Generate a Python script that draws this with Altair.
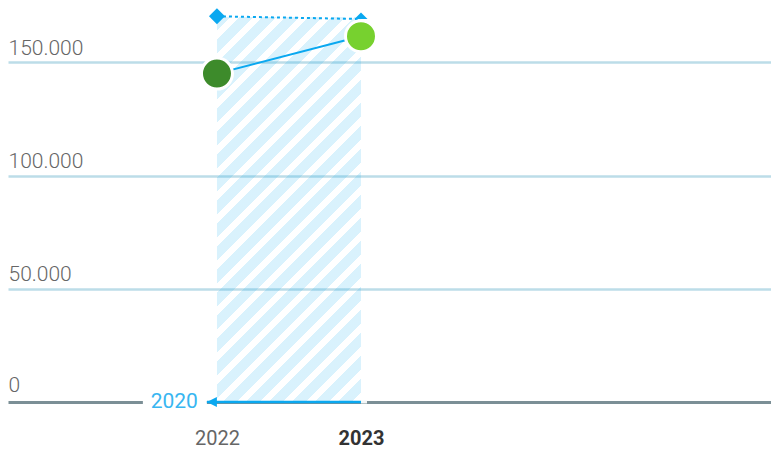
import altair as alt
import pandas as pd

# --- data -------------------------------------------------------------
years = [2022, 2023]
values = [145000, 161500]          # green points
marker_values = [170300, 169100]   # dotted top markers
band_range = [2022, 2023]
band_top = 170000
arrow_from = 2023
arrow_to = 2021.93
arrow_label = "2020"
y_ticks = [0, 50000, 100000, 150000]
x_ticks = [2022, 2023]

# --- layout / style ---------------------------------------------------
W, H = 763, 402
X_DOMAIN = [2020.549, 2025.847]
Y_DOMAIN = [0, 177500]
FONT = "Roboto"
BLUE = "#0aa8f0"
LABEL_BLUE = "#38b6f1"
GRID = "#bcdde8"
AXIS_GREY = "#7b8f96"
POINT_COLORS = ["#3d8b2b", "#77d12f"]
MARKER_SHAPES = ["M-1.23,0L0,-1.23L1.23,0L0,1.23Z", "M-1,0L0,-1L1,0Z"]
ARROW_HEAD = "M0,0L2,-1L2,1Z"

df = pd.DataFrame({"year": years, "value": values, "marker": marker_values})
band = pd.DataFrame({"start": [band_range[0]], "end": [band_range[1]], "top": [band_top]})
arrow = pd.DataFrame({"start": [arrow_from], "end": [arrow_to], "label": [arrow_label]})

x_scale = alt.Scale(domain=X_DOMAIN, nice=False, zero=False)
y_scale = alt.Scale(domain=Y_DOMAIN, nice=False, zero=False)

x_axis = alt.Axis(
    values=x_ticks,
    labelExpr="format(datum.value, 'd')",
    ticks=False,
    tickSize=0,
    grid=False,
    domain=True,
    domainColor=AXIS_GREY,
    domainWidth=3,
    labelPadding=42,
    labelBaseline="alphabetic",
    labelFont=FONT,
    labelFontSize=20,
    labelFlush=False,
    labelColor={"condition": {"test": "datum.value == 2023", "value": "#333333"}, "value": "#666666"},
    labelFontWeight={"condition": {"test": "datum.value == 2023", "value": "bold"}, "value": "normal"},
)

y_axis = alt.Axis(
    values=y_ticks,
    labelExpr="replace(format(datum.value, ','), ',', '.')",
    orient="left",
    ticks=False,
    tickSize=0,
    domain=False,
    grid=True,
    gridColor={"condition": {"test": "datum.value == 0", "value": "rgba(0,0,0,0)"}, "value": GRID},
    gridWidth=2.5,
    labelAlign="left",
    labelBaseline="alphabetic",
    labelPadding=0,
    labelOffset={"condition": {"test": "datum.value == 0", "value": -11}, "value": -8},
    labelFlush=False,
    labelFont=FONT,
    labelFontWeight=300,
    labelFontSize=21,
    labelColor="#666666",
)


def X(field, **kw):
    return alt.X(field, type="quantitative", scale=x_scale, axis=x_axis, title=None, **kw)


def Y(field, **kw):
    return alt.Y(field, type="quantitative", scale=y_scale, axis=y_axis, title=None, **kw)


def Y_datum(v):
    return alt.Y(datum=v, type="quantitative", scale=y_scale, axis=y_axis, title=None)


# diagonal stripe fill for the highlighted period, as a hard-stop gradient
def stripes(w, h, period=23.0, share=0.6, color="rgba(0,168,240,0.15)"):
    clear = "rgba(255,255,255,0)"
    s = (w + h) / (w * w + h * h)
    p = period / (w + h)
    stops = []
    k = 0
    while k * p < 1:
        a = k * p
        b = min(a + share * p, 1.0)
        c = min(a + p, 1.0)
        stops += [
            alt.GradientStop(offset=a, color=color),
            alt.GradientStop(offset=b, color=color),
            alt.GradientStop(offset=b, color=clear),
            alt.GradientStop(offset=c, color=clear),
        ]
        k += 1
    return alt.LinearGradient(gradient="linear", stops=stops, x1=0, y1=0, x2=w * s, y2=h * s)


band_w = W * (band_range[1] - band_range[0]) / (X_DOMAIN[1] - X_DOMAIN[0])
band_h = H * band_top / (Y_DOMAIN[1] - Y_DOMAIN[0])

band_layer = alt.Chart(band).mark_rect(fill=stripes(band_w, band_h)).encode(
    x=X("start"), x2="end", y=Y("top"), y2=alt.datum(0)
)

# white gap in the baseline behind the arrow label, and a small one at the arrow start
label_gap = alt.Chart(arrow).mark_rect(color="white", xOffset=-64, x2Offset=0, yOffset=-3, y2Offset=3).encode(
    x=X("end"), x2="end", y=Y_datum(0), y2=alt.datum(0)
)
start_gap = alt.Chart(arrow).mark_rect(color="#f3f6f7", xOffset=0, x2Offset=6, yOffset=-1.5, y2Offset=1.5).encode(
    x=X("start"), x2="start", y=Y_datum(0), y2=alt.datum(0)
)

arrow_line = alt.Chart(arrow).mark_rule(color=BLUE, strokeWidth=2.5).encode(
    x=X("start"), x2="end", y=Y_datum(0)
)
arrow_head = alt.Chart(arrow).mark_point(shape=ARROW_HEAD, filled=True, color=BLUE, size=100, opacity=1).encode(
    x=X("end"), y=Y_datum(0)
)
arrow_text = alt.Chart(arrow).mark_text(
    align="right", baseline="middle", dx=-9, dy=0, font=FONT, fontSize=21, color=LABEL_BLUE
).encode(x=X("end"), y=Y_datum(0), text="label:N")

dotted = alt.Chart(df).mark_line(color=BLUE, strokeWidth=2, strokeDash=[3, 3]).encode(
    x=X("year"), y=Y("marker")
)
markers = alt.Chart(df).mark_point(filled=True, size=169, opacity=1, color=BLUE).encode(
    x=X("year"),
    y=Y("marker"),
    shape=alt.Shape("year:N", scale=alt.Scale(domain=years, range=MARKER_SHAPES), legend=None),
)

link = alt.Chart(df).mark_line(color=BLUE, strokeWidth=2).encode(x=X("year"), y=Y("value"))
points = alt.Chart(df).mark_point(
    shape="circle", filled=True, size=961, opacity=1, stroke="white", strokeWidth=3
).encode(
    x=X("year"),
    y=Y("value"),
    fill=alt.Fill("year:N", scale=alt.Scale(domain=years, range=POINT_COLORS), legend=None),
)

chart = (
    alt.layer(band_layer, label_gap, start_gap, arrow_line, arrow_head, arrow_text, dotted, markers, link, points)
    .properties(width=W, height=H, padding={"left": 8, "top": 0, "right": 0, "bottom": 0})
    .configure(background="white")
    .configure_view(stroke="transparent", strokeWidth=0)
)

chart.save("out.html", embed_options={"renderer": "svg", "actions": False})
